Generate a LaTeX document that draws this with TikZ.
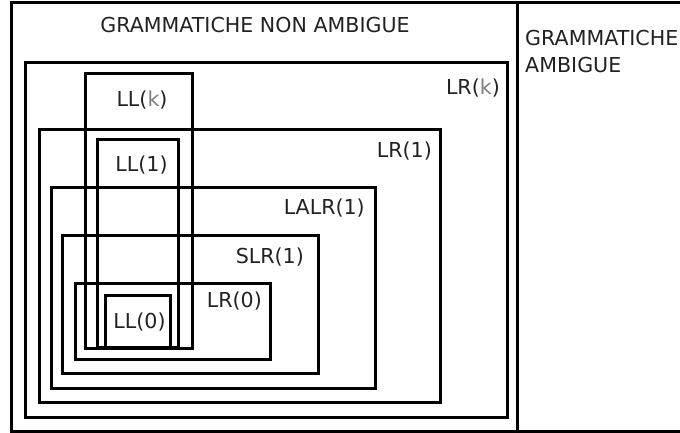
\documentclass[tikz,border=0pt]{standalone}
\usepackage{fontspec}
\setmainfont{DejaVu Sans}
\usepackage{xcolor}
\usepackage{tikz}
\definecolor{inkx}{HTML}{222222}
\definecolor{kgrey}{HTML}{7F7F7F}
\tikzset{
  bx/.style={draw=black,line width=3pt},
  lb/.style={inner sep=0pt,text=inkx,font=\fontsize{20.6}{27}\selectfont},
  lbr/.style={lb,anchor=east}
}
\newcommand{\kgr}{\textcolor{kgrey}{k}}

\begin{document}
\begin{tikzpicture}[x=1pt,y=-1pt]
\useasboundingbox (0,0) rectangle (680,433);
% outer frame and divider
\draw[bx] (680,2.5) -- (11.5,2.5) -- (11.5,431) -- (680,431);
\draw[bx] (517,2.5) -- (517,431);
\node[lb] (nonamb) at (255,25.5) {GRAMMATICHE NON AMBIGUE};
\node[lb,align=left,anchor=north west] (amb) at (525,30) {GRAMMATICHE\\AMBIGUE};
% LR family
\draw[bx] (25,62.5) rectangle (507.5,417);
\draw[bx] (39,129.5) rectangle (440.7,402);
\draw[bx] (51,187) rectangle (375.7,388);
\draw[bx] (62.7,235) rectangle (318.3,373);
\draw[bx] (75,283) rectangle (270.7,359);
% LL family
\draw[bx] (85,73.5) rectangle (192.7,348);
\draw[bx] (97.5,140) rectangle (178.5,347.5);
\draw[bx] (105.7,295) rectangle (170,347);
% labels
\node[lbr] (lrk) at (500,88) {LR(\kgr)};
\node[lbr] (lr1) at (432,151.5) {LR(1)};
\node[lbr] (lalr) at (365,208.5) {LALR(1)};
\node[lbr] (slr) at (304,257) {SLR(1)};
\node[lbr] (lr0) at (262,301.5) {LR(0)};
\node[lb] (llk) at (142,100) {LL(\kgr)};
\node[lb] (ll1) at (141.5,165) {LL(1)};
\node[lb] (ll0) at (139.5,322) {LL(0)};
\end{tikzpicture}
\end{document}
